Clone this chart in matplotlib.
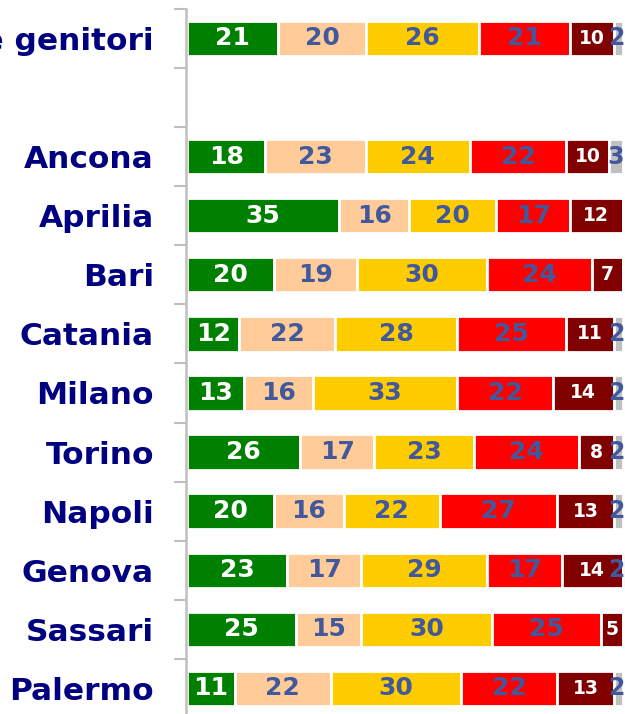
import matplotlib
matplotlib.use("Agg")
import matplotlib.pyplot as plt
from matplotlib.ticker import FixedLocator

# Rows from top to bottom (second row is an empty separator)
categories = ["Totale genitori", "", "Ancona", "Aprilia", "Bari", "Catania",
              "Milano", "Torino", "Napoli", "Genova", "Sassari", "Palermo"]

# Percentage shares per row, one list per answer class
green_vals = [21, 0, 18, 35, 20, 12, 13, 26, 20, 23, 25, 11]
peach_vals = [20, 0, 23, 16, 19, 22, 16, 17, 16, 17, 15, 22]
gold_vals = [26, 0, 24, 20, 30, 28, 33, 23, 22, 29, 30, 30]
red_vals = [21, 0, 22, 17, 24, 25, 22, 24, 27, 17, 25, 22]
darkred_vals = [10, 0, 10, 12, 7, 11, 14, 8, 13, 14, 5, 13]
grey_vals = [2, 0, 3, 0, 0, 2, 2, 2, 2, 2, 0, 2]

series = [
    (green_vals, "#008000", "white", 18),
    (peach_vals, "#FFCC99", "#41599C", 18),
    (gold_vals, "#FFCC00", "#41599C", 18),
    (red_vals, "#FF0000", "#41599C", 18),
    (darkred_vals, "#800000", "white", 13.5),
    (grey_vals, "#C0C0C0", "#41599C", 17),
]

W, H = 625, 714
fig = plt.figure(figsize=(W / 100, H / 100), dpi=100)

# axes geometry in pixels
ax_left_px = 186
ax_top_px = 8.8
row_px = 59.1
ax_h_px = row_px * len(categories)
ax = fig.add_axes([ax_left_px / W, 1 - (ax_top_px + ax_h_px) / H,
                   (W - ax_left_px) / W, ax_h_px / H])

px_per_unit = 4.355
x0_px = 187
xmin = -(x0_px - ax_left_px) / px_per_unit
xmax = (W - x0_px) / px_per_unit
ax.set_xlim(xmin, xmax)

# keep value labels of the last segments inside the plotting area
label_xmax = xmax - 1.9

ypos = list(range(len(categories)))
lefts = [0] * len(categories)
for vals, color, tcolor, fsize in series:
    ax.barh(ypos, vals, left=lefts, height=0.6, color=color,
            edgecolor="white", linewidth=2.0)
    for y, (l, v) in enumerate(zip(lefts, vals)):
        if v > 0:
            ax.text(min(l + v / 2, label_xmax), y, str(v), ha="center",
                    va="center", color=tcolor, fontsize=fsize,
                    fontweight="bold", family="DejaVu Sans")
    lefts = [l + v for l, v in zip(lefts, vals)]

ax.set_ylim(len(categories) - 0.5, -0.5)
ax.set_yticks(ypos)
ax.set_yticklabels(categories, fontsize=22.5, fontweight="bold",
                   color="#000080", family="DejaVu Sans")
ax.yaxis.set_minor_locator(FixedLocator([i - 0.5 for i in range(len(categories) + 1)]))
ax.tick_params(axis="y", which="major", length=0, pad=23)
ax.tick_params(axis="y", which="minor", length=8.5, width=1.5, color="#BFBFBF")
ax.set_xticks([])

for side in ["top", "right", "bottom"]:
    ax.spines[side].set_visible(False)
ax.spines["left"].set_color("#BFBFBF")
ax.spines["left"].set_linewidth(1.8)

fig.savefig("out.png", dpi=100)
